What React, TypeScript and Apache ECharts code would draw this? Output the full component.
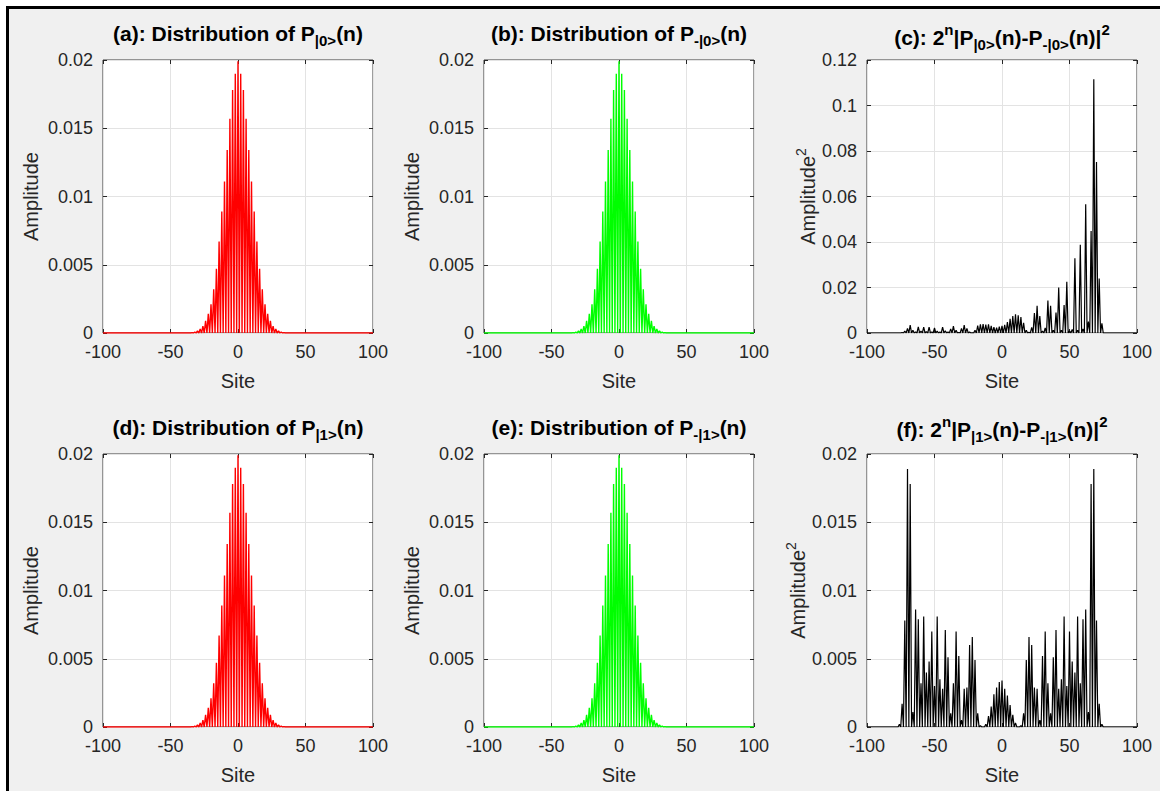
import React, { useEffect, useRef } from 'react';
import * as echarts from 'echarts';

// ---------- data ----------
const siteMin = -100;
const siteMax = 100;
const siteTickStep = 50;
const sites: number[] = [];
for (let s = siteMin; s <= siteMax; s++) sites.push(s);

// Probability distribution (sites -100 .. 100), same shape in panels a, b, d, e
const distributionValues = [
  0, 0, 0, 0, 0, 0, 0, 0, 0, 0, // -100..-91
  0, 0, 0, 0, 0, 0, 0, 0, 0, 0, // -90..-81
  0, 0, 0, 0, 0, 0, 0, 0, 0, 0, // -80..-71
  0, 0, 0, 0, 0, 0, 0, 0, 0, 0, // -70..-61
  0, 0, 0, 0, 0, 0, 0, 0, 0, 0, // -60..-51
  0, 0, 0, 0, 0, 0, 0, 0, 0, 0, // -50..-41
  0, 0, 0, 0, 0, 0, 0.00003, 0, 0.00007, 0, // -40..-31
  0.00015, 0, 0.0003, 0, 0.0005, 0, 0.0009, 0, 0.0014, 0, // -30..-21
  0.0021, 0, 0.0032, 0, 0.0047, 0, 0.0067, 0, 0.0089, 0, // -20..-11
  0.0111, 0, 0.0134, 0, 0.0157, 0, 0.0178, 0, 0.019, 0, // -10..-1
  0.0199, 0, 0.019, 0, 0.0178, 0, 0.0157, 0, 0.0134, 0, // 0..9
  0.0111, 0, 0.0089, 0, 0.0067, 0, 0.0047, 0, 0.0032, 0, // 10..19
  0.0021, 0, 0.0014, 0, 0.0009, 0, 0.0005, 0, 0.0003, 0, // 20..29
  0.00015, 0, 0.00007, 0, 0.00003, 0, 0, 0, 0, 0, // 30..39
  0, 0, 0, 0, 0, 0, 0, 0, 0, 0, // 40..49
  0, 0, 0, 0, 0, 0, 0, 0, 0, 0, // 50..59
  0, 0, 0, 0, 0, 0, 0, 0, 0, 0, // 60..69
  0, 0, 0, 0, 0, 0, 0, 0, 0, 0, // 70..79
  0, 0, 0, 0, 0, 0, 0, 0, 0, 0, // 80..89
  0, 0, 0, 0, 0, 0, 0, 0, 0, 0, // 90..99
  0, // 100
];

// Panel (c): 2^n |P|0>(n) - P-|0>(n)|^2
const diffZeroValues = [
  0, 0, 0, 0, 0, 0, 0, 0, 0, 0, // -100..-91
  0, 0, 0, 0, 0, 0, 0, 0, 0, 0, // -90..-81
  0, 0, 0, 0, 0, 0, 0.0002, 0, 0.0008, 0, // -80..-71
  0.002, 0, 0.0035, 0, 0.0012, 0, 0.0005, 0, 0.0027, 0, // -70..-61
  0.0008, 0, 0.0026, 0, 0.0006, 0, 0.0026, 0, 0.0005, 0, // -60..-51
  0.0022, 0, 0.0008, 0, 0.0004, 0, 0.0026, 0, 0.001, 0, // -50..-41
  0.0004, 0, 0.0018, 0, 0.003, 0, 0.0012, 0, 0.0002, 0, // -40..-31
  0.002, 0, 0.0035, 0, 0.002, 0, 0.0004, 0, 0.0001, 0, // -30..-21
  0.0012, 0, 0.0032, 0, 0.0038, 0, 0.0039, 0, 0.0037, 0, // -20..-11
  0.0038, 0, 0.0031, 0, 0.0026, 0, 0.0024, 0, 0.0028, 0, // -10..-1
  0.0031, 0, 0.0036, 0, 0.0048, 0, 0.0062, 0, 0.0074, 0, // 0..9
  0.0082, 0, 0.0078, 0, 0.007, 0, 0.0045, 0, 0.0012, 0, // 10..19
  0.0003, 0, 0.0025, 0, 0.0088, 0, 0.012, 0, 0.0075, 0, // 20..29
  0.0008, 0, 0.0022, 0, 0.0143, 0, 0.012, 0, 0.0012, 0, // 30..39
  0.009, 0, 0.02, 0, 0.0012, 0, 0.0123, 0, 0.0225, 0, // 40..49
  0.001, 0, 0.0016, 0, 0.0328, 0, 0.0012, 0, 0.0388, 0, // 50..59
  0.0018, 0, 0.0566, 0, 0.005, 0, 0.0448, 0, 0.1115, 0, // 60..69
  0.0752, 0, 0.024, 0, 0.0042, 0, 0, 0, 0, 0, // 70..79
  0, 0, 0, 0, 0, 0, 0, 0, 0, 0, // 80..89
  0, 0, 0, 0, 0, 0, 0, 0, 0, 0, // 90..99
  0, // 100
];

// Panel (f): 2^n |P|1>(n) - P-|1>(n)|^2
const diffOneValues = [
  0, 0, 0, 0, 0, 0, 0, 0, 0, 0, // -100..-91
  0, 0, 0, 0, 0, 0, 0, 0, 0, 0, // -90..-81
  0, 0, 0, 0, 0.0002, 0, 0.0017, 0, 0.0078, 0, // -80..-71
  0.0189, 0, 0.0178, 0, 0.0011, 0, 0.0086, 0, 0.0079, 0, // -70..-61
  0.0032, 0, 0.0081, 0, 0.004, 0, 0.0048, 0, 0.007, 0, // -60..-51
  0.003, 0, 0.0081, 0, 0.0035, 0, 0.0028, 0, 0.0071, 0, // -50..-41
  0.0051, 0, 0.001, 0, 0.0032, 0, 0.007, 0, 0.0052, 0, // -40..-31
  0.0005, 0, 0.0028, 0, 0.0029, 0, 0.006, 0, 0.0066, 0, // -30..-21
  0.0049, 0, 0.001, 0, 0.0001, 0, 0, 0, 0.0002, 0, // -20..-11
  0.0008, 0, 0.0015, 0, 0.0024, 0, 0.0029, 0, 0.0033, 0, // -10..-1
  0.0034, 0, 0.0028, 0, 0.0023, 0, 0.0016, 0, 0.0009, 0, // 0..9
  0.0003, 0, 0, 0, 0.0001, 0, 0.001, 0, 0.0049, 0, // 10..19
  0.0066, 0, 0.006, 0, 0.0029, 0, 0.0028, 0, 0.0005, 0, // 20..29
  0.0052, 0, 0.007, 0, 0.0032, 0, 0.001, 0, 0.0051, 0, // 30..39
  0.0071, 0, 0.0028, 0, 0.0035, 0, 0.0081, 0, 0.003, 0, // 40..49
  0.007, 0, 0.0048, 0, 0.004, 0, 0.0081, 0, 0.0032, 0, // 50..59
  0.0079, 0, 0.0086, 0, 0.0011, 0, 0.0178, 0, 0.0189, 0, // 60..69
  0.0078, 0, 0.0017, 0, 0.0002, 0, 0, 0, 0, 0, // 70..79
  0, 0, 0, 0, 0, 0, 0, 0, 0, 0, // 80..89
  0, 0, 0, 0, 0, 0, 0, 0, 0, 0, // 90..99
  0, // 100
];

const probAxisMax = 0.02;
const probAxisStep = 0.005;
const diffZeroAxisMax = 0.12;
const diffZeroAxisStep = 0.02;

const titles = [
  '{t|(a): Distribution of P}{sub||0>}{t|(n)}',
  '{t|(b): Distribution of P}{sub|-|0>}{t|(n)}',
  '{t|(c): 2}{sup|n}{t||P}{sub||0>}{t|(n)-P}{sub|-|0>}{t|(n)|}{sup|2}',
  '{t|(d): Distribution of P}{sub||1>}{t|(n)}',
  '{t|(e): Distribution of P}{sub|-|1>}{t|(n)}',
  '{t|(f): 2}{sup|n}{t||P}{sub||1>}{t|(n)-P}{sub|-|1>}{t|(n)|}{sup|2}',
];
const xAxisName = 'Site';
const yNamePlain = '{n|Amplitude}';
const yNameSquared = '{n|Amplitude}{sup|2}';

// ---------- layout / style ----------
const FONT = 'Arial, "Liberation Sans", Helvetica, sans-serif';
const AXIS_COLOR = '#262626';
const colLeft = [103, 484, 867];
const rowTop = [60, 454];
const PW = 270;
const PH = 273;

const panels = [
  { values: distributionValues, color: '#ff0000', width: 1.4, yMax: probAxisMax, yStep: probAxisStep, yName: yNamePlain, col: 0, row: 0, titleDy: 0, nameGap: 62 },
  { values: distributionValues, color: '#00ff00', width: 1.4, yMax: probAxisMax, yStep: probAxisStep, yName: yNamePlain, col: 1, row: 0, titleDy: 0, nameGap: 62 },
  { values: diffZeroValues, color: '#000000', width: 1.2, yMax: diffZeroAxisMax, yStep: diffZeroAxisStep, yName: yNameSquared, col: 2, row: 0, titleDy: 4, nameGap: 45 },
  { values: distributionValues, color: '#ff0000', width: 1.4, yMax: probAxisMax, yStep: probAxisStep, yName: yNamePlain, col: 0, row: 1, titleDy: 0, nameGap: 62 },
  { values: distributionValues, color: '#00ff00', width: 1.4, yMax: probAxisMax, yStep: probAxisStep, yName: yNamePlain, col: 1, row: 1, titleDy: 0, nameGap: 62 },
  { values: diffOneValues, color: '#000000', width: 1.2, yMax: probAxisMax, yStep: probAxisStep, yName: yNameSquared, col: 2, row: 1, titleDy: 2, nameGap: 54 },
];

const titleRich = {
  t: { fontFamily: FONT, fontSize: 21, fontWeight: 'bold', fill: '#000', verticalAlign: 'middle' },
  sub: { fontFamily: FONT, fontSize: 15, fontWeight: 'bold', fill: '#000', padding: [14, 0, 0, 0], verticalAlign: 'middle' },
  sup: { fontFamily: FONT, fontSize: 15, fontWeight: 'bold', fill: '#000', padding: [0, 0, 16, 0], verticalAlign: 'middle' },
};

function buildOption() {
  const grid: any[] = [];
  const xAxis: any[] = [];
  const yAxis: any[] = [];
  const series: any[] = [];
  const graphic: any[] = [
    { type: 'rect', shape: { x: 0, y: 0, width: 1160, height: 6 }, style: { fill: '#ffffff' }, silent: true },
    { type: 'rect', shape: { x: 0, y: 0, width: 6, height: 791 }, style: { fill: '#ffffff' }, silent: true },
    { type: 'line', shape: { x1: 6, y1: 7.5, x2: 1160, y2: 7.5 }, style: { stroke: '#000', lineWidth: 3 }, silent: true },
    { type: 'line', shape: { x1: 7.5, y1: 6, x2: 7.5, y2: 791 }, style: { stroke: '#000', lineWidth: 3 }, silent: true },
  ];

  panels.forEach((p, k) => {
    const left = colLeft[p.col];
    const top = rowTop[p.row];
    grid.push({
      left, top, width: PW, height: PH, show: true,
      backgroundColor: '#ffffff', borderColor: '#3a3a3a', borderWidth: 1,
    });
    const tickStyle = { show: true, inside: true, length: 4, lineStyle: { color: AXIS_COLOR, width: 1 } };
    const hiddenLine = { show: false, onZero: false };
    xAxis.push({
      type: 'value', gridIndex: k, min: siteMin, max: siteMax, interval: siteTickStep, position: 'bottom',
      name: xAxisName, nameLocation: 'middle', nameGap: 38,
      nameTextStyle: { fontFamily: FONT, fontSize: 20, color: AXIS_COLOR },
      axisLine: hiddenLine, axisTick: tickStyle,
      axisLabel: { fontFamily: FONT, fontSize: 18, color: AXIS_COLOR, margin: 10 },
      splitLine: { show: true, lineStyle: { color: '#e3e3e3', width: 1 } },
    });
    xAxis.push({
      type: 'value', gridIndex: k, min: siteMin, max: siteMax, interval: siteTickStep, position: 'top',
      axisLine: hiddenLine, axisTick: tickStyle, axisLabel: { show: false }, splitLine: { show: false },
    });
    const nameRich = {
      n: { fontFamily: FONT, fontSize: 20, color: AXIS_COLOR, verticalAlign: 'middle' },
      sup: { fontFamily: FONT, fontSize: 14, color: AXIS_COLOR, padding: [0, 0, 14, 0], verticalAlign: 'middle' },
    };
    yAxis.push({
      type: 'value', gridIndex: k, min: 0, max: p.yMax, interval: p.yStep, position: 'left',
      name: p.yName, nameLocation: 'middle', nameGap: p.nameGap, nameRotate: 90,
      nameTextStyle: { fontFamily: FONT, fontSize: 20, color: AXIS_COLOR, rich: nameRich },
      axisLine: hiddenLine, axisTick: tickStyle,
      axisLabel: { fontFamily: FONT, fontSize: 18, color: AXIS_COLOR, margin: 10 },
      splitLine: { show: true, lineStyle: { color: '#e3e3e3', width: 1 } },
    });
    yAxis.push({
      type: 'value', gridIndex: k, min: 0, max: p.yMax, interval: p.yStep, position: 'right',
      axisLine: hiddenLine, axisTick: tickStyle, axisLabel: { show: false }, splitLine: { show: false },
    });
    series.push({
      type: 'line', xAxisIndex: 2 * k, yAxisIndex: 2 * k,
      data: sites.map((s, i) => [s, p.values[i]]),
      showSymbol: false, symbol: 'none', silent: true,
      lineStyle: { color: p.color, width: p.width },
      z: 3,
    });
    graphic.push({
      type: 'text',
      x: left + PW / 2,
      y: (p.row === 0 ? 33.5 : 427.5) + p.titleDy,
      silent: true,
      style: {
        text: titles[k], rich: titleRich,
        fontFamily: FONT, fontSize: 21, fontWeight: 'bold', fill: '#000',
        align: 'center', verticalAlign: 'middle', textAlign: 'center', textVerticalAlign: 'middle',
      },
    });
  });

  return {
    animation: false,
    backgroundColor: '#f0f0f0',
    grid, xAxis, yAxis, series, graphic,
  };
}

export default function App() {
  const ref = useRef<HTMLDivElement>(null);
  useEffect(() => {
    if (!ref.current) return;
    const chart = echarts.init(ref.current, null, { renderer: 'svg' });
    chart.setOption(buildOption() as any);
    return () => chart.dispose();
  }, []);
  return (
    <div
      ref={ref}
      style={{ position: 'fixed', left: 0, top: 0, width: 1160, height: 791 }}
    />
  );
}
